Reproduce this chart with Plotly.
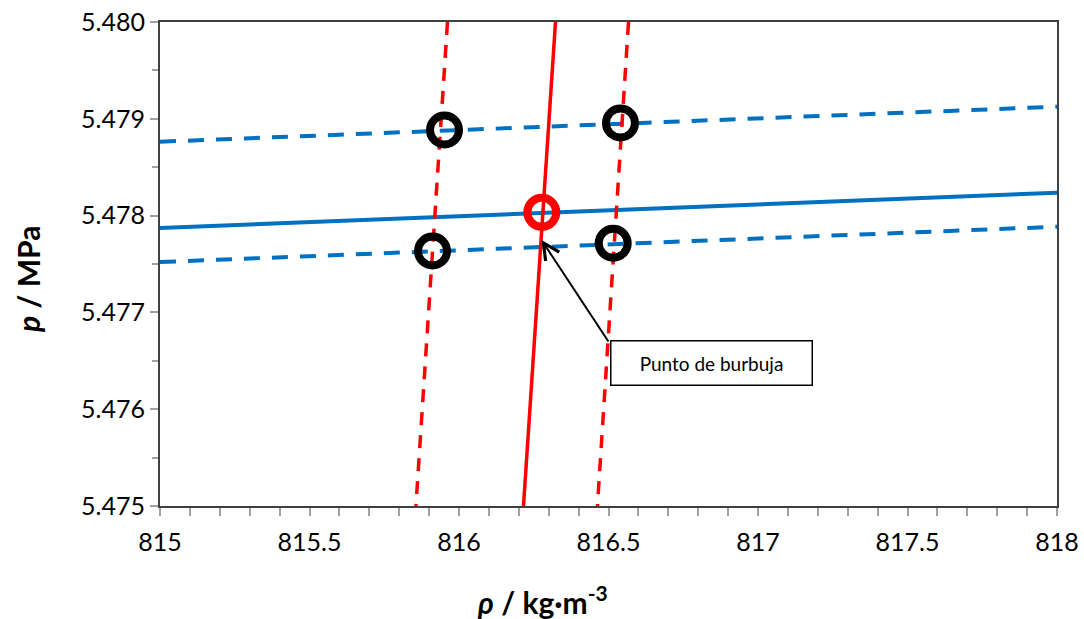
import plotly.graph_objects as go

# Isobar (blue) and isochore (red) lines, given by their end points
iso_p_rho = [815.0, 818.0]
iso_p_mid = [5.477872, 5.478237]
iso_p_hi = [5.478763, 5.479125]
iso_p_lo = [5.477520, 5.477885]

iso_rho_p = [5.480, 5.475]
iso_rho_mid = [816.3227, 816.2157]
iso_rho_lo = [815.9615, 815.8560]
iso_rho_hi = [816.5670, 816.4630]

# Bracketing points and the bubble point
corner_rho = [815.9515, 816.5400, 815.9114, 816.5157]
corner_p = [5.478884, 5.478957, 5.477634, 5.477714]
bubble_rho = [816.277]
bubble_p = [5.478034]

BLUE = "#0070C0"
RED = "#FF0000"
FONT = "Lato, 'Open Sans', sans-serif"

W, H = 1084, 619
L, R, T, B = 160, 27, 22, 113
pw, ph = W - L - R, H - T - B

def paper_x(px):
    return (px - L) / pw

def paper_y(py):
    return 1 - (py - T) / ph

fig = go.Figure()

def add_line(x, y, color, dash, width):
    fig.add_trace(go.Scatter(x=x, y=y, mode="lines",
                             line=dict(color=color, width=width, dash=dash),
                             showlegend=False, hoverinfo="skip"))

add_line(iso_p_rho, iso_p_hi, BLUE, "16px,12px", 4)
add_line(iso_p_rho, iso_p_lo, BLUE, "16px,12px", 4)
add_line(iso_p_rho, iso_p_mid, BLUE, "solid", 4)
add_line(iso_rho_lo, iso_rho_p, RED, "13px,10px", 3.5)
add_line(iso_rho_hi, iso_rho_p, RED, "13px,10px", 3.5)
add_line(iso_rho_mid, iso_rho_p, RED, "solid", 3.5)

fig.add_trace(go.Scatter(x=corner_rho, y=corner_p, mode="markers",
                         marker=dict(symbol="circle-open", size=29, color="black",
                                     line=dict(color="black", width=8)),
                         showlegend=False, hoverinfo="skip"))
fig.add_trace(go.Scatter(x=bubble_rho, y=bubble_p, mode="markers",
                         marker=dict(symbol="circle-open", size=29, color=RED,
                                     line=dict(color=RED, width=8)),
                         showlegend=False, hoverinfo="skip"))

# Callout arrow pointing to the bubble point
fig.add_annotation(x=816.276, y=5.477748, ax=816.503, ay=5.476684,
                   xref="x", yref="y", axref="x", ayref="y",
                   text="", showarrow=True,
                   arrowhead=5, arrowsize=1.6, arrowwidth=2,
                   arrowcolor="black", standoff=0, startstandoff=0)
# Callout label box
fig.add_annotation(x=816.8445, y=5.476477, xref="x", yref="y",
                   text="Punto de burbuja", showarrow=False,
                   font=dict(family=FONT, size=19, color="black"),
                   width=200, height=43, bordercolor="black",
                   borderwidth=1.5, bgcolor="white", borderpad=0)

# Axis titles
fig.add_annotation(x=paper_x(542), y=paper_y(600), xref="paper", yref="paper",
                   xanchor="center", yanchor="middle",
                   text="<b><i>ρ</i> / kg·m<sup>-3</sup></b>", showarrow=False,
                   font=dict(family=FONT, size=30, color="black"))
fig.add_annotation(x=paper_x(28), y=paper_y(280), xref="paper", yref="paper",
                   xanchor="center", yanchor="middle",
                   text="<b><i>p</i> / MPa</b>", showarrow=False, textangle=-90,
                   font=dict(family=FONT, size=30, color="black"))

axis_common = dict(
    showgrid=False, zeroline=False, showline=True, mirror=True,
    linecolor="#404040", linewidth=2, automargin=False,
    ticks="outside", tickcolor="#A0A0A0", ticklen=8, tickwidth=1.5,
    tickfont=dict(family=FONT, size=25, color="black"),
)

fig.update_xaxes(
    range=[815, 818], dtick=0.5, tick0=815, ticklabelstandoff=5, **axis_common,
    minor=dict(ticks="outside", dtick=0.1, ticklen=8,
               tickcolor="#A0A0A0", tickwidth=1.5),
)
fig.update_yaxes(
    range=[5.475, 5.480], dtick=0.001, tick0=5.475, tickformat=".3f",
    **axis_common,
    minor=dict(ticks="outside", dtick=0.0005, ticklen=6,
               tickcolor="#A0A0A0", tickwidth=1.5),
)

fig.update_layout(
    width=W, height=H,
    margin=dict(l=L, r=R, t=T, b=B),
    paper_bgcolor="white", plot_bgcolor="white",
)

fig.write_html("out.html")
